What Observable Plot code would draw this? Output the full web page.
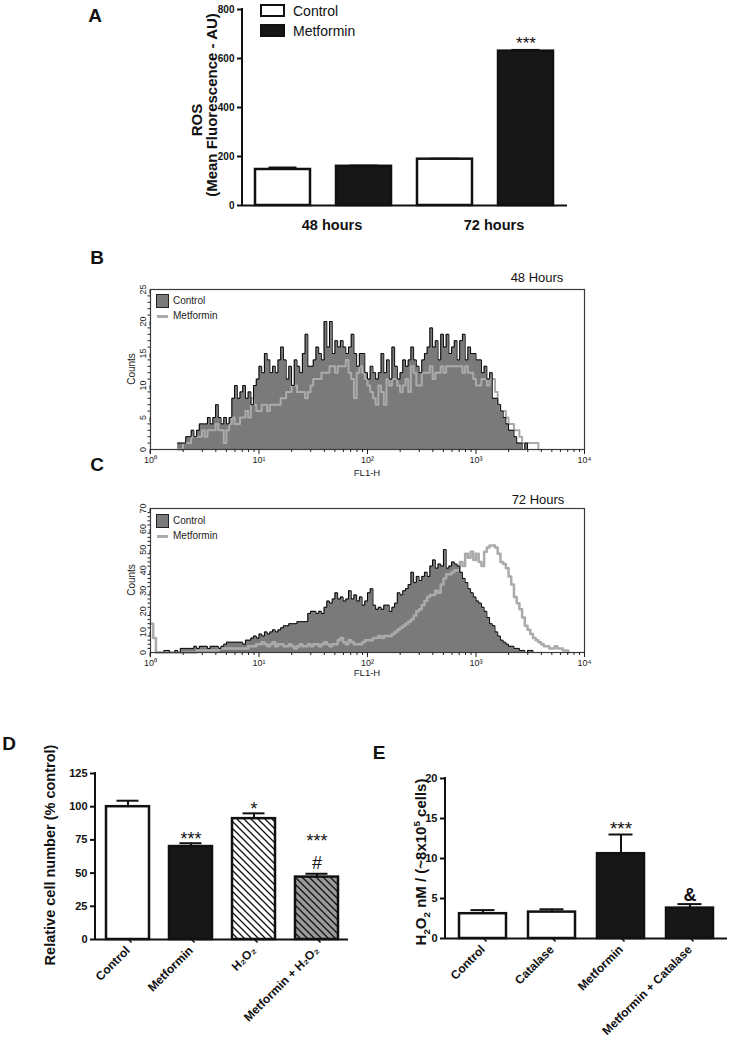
<!DOCTYPE html>
<html><head><meta charset="utf-8">
<script src="https://cdn.jsdelivr.net/npm/d3@7"></script>
<script src="https://cdn.jsdelivr.net/npm/@observablehq/plot@0.6"></script>
<style>
body{margin:0;background:#fff;}
#fig{position:relative;width:730px;height:1044px;font-family:"Liberation Sans",Arial,Helvetica,sans-serif;color:#111;overflow:hidden;background:#fff}
.t{position:absolute;white-space:nowrap;line-height:1}
.c{transform:translate(-50%,-50%)}
.l{transform:translate(0,-50%)}
.r{transform:translate(-50%,-50%) rotate(-90deg)}
.plot{position:absolute}
sub,sup{font-size:0.65em;line-height:0}
</style></head><body><div id="fig"></div>
<script>
// ---------- Panel A: ROS ----------
const rosGroups = ["48 hours", "72 hours"];
const rosTreatments = ["Control", "Metformin"];
const rosMean = [147, 160, 189, 630];
const rosSem = [8, 3, 2, 5];
const rosSig = ["", "", "", "***"];
const rosYTicks = [0, 200, 400, 600, 800];

// ---------- Panels B, C: flow cytometry histograms (counts per channel) ----------
const flowBinDecades = 0.025;            // channel width in log10(FL1-H)
const flowB_firstChannel = 0.25;         // log10 FL1-H of first listed channel
const flowB_control = [1,1,1,2,2,3,2,3,4,4, 4,5,4,5,7,5,4,5,4,5, 8,10,8,9,10,8,9,7,10,11, 13,12,15,14,12,13,12,14,16,14,
  11,13,10,14,13,12,15,18,13,13, 14,16,15,14,20,16,20,15,17,16, 17,16,15,16,18,15,13,15,15,12, 11,13,12,11,12,15,12,14,11,16,
  13,11,12,14,13,14,16,14,13,12, 14,15,16,19,16,17,14,18,16,18, 15,16,17,14,17,18,14,16,15,15, 14,14,12,13,11,12,8,8,7,6,
  5,4,3,3,2,1,1,0,1,0];
const flowB_metformin = [0,0,1,1,1,2,2,2,2,3, 2,3,3,3,4,3,3,1,3,4, 5,4,4,5,5,6,5,8,7,6, 6,7,7,6,7,7,7,7,8,8,
  9,9,10,10,9,9,9,8,9,10, 11,11,11,12,12,12,13,13,12,13, 13,13,14,12,11,8,12,13,12,11, 10,9,8,7,10,9,7,11,10,11,
  11,10,9,10,11,9,13,12,10,10, 12,12,12,13,11,12,12,13,12,13, 13,13,13,13,13,12,13,12,12,11, 10,10,11,11,10,11,11,9,7,6,
  6,5,4,4,3,3,2,1,1,1, 1,1,1,0];
const flowC_firstChannel = 0;
const flowC_control = [0,0,0,0,0,1,1,0,0,1, 0,2,2,2,2,2,3,2,3,3, 3,2,3,3,3,2,3,4,5,5, 5,5,5,5,4,6,6,7,8,7,
  9,8,10,9,10,11,10,11,12,13, 13,14,14,14,15,15,15,15,19,20, 20,19,20,19,22,25,24,26,29,26, 27,25,26,30,26,28,25,27,23,25,
  29,31,23,21,22,21,23,23,20,22, 24,29,28,30,31,33,39,34,37,35, 37,39,37,42,45,41,43,42,50,41, 42,44,43,42,39,36,34,31,29,27,
  25,24,22,20,17,14,13,10,8,6, 5,4,3,3,2,2,1,1,0,1, 1,0];
const flowC_metformin = [14,7,0,0,0,0,0,0,0,0, 0,0,0,0,0,0,0,1,1,1, 1,1,1,1,1,2,2,2,2,2, 2,2,2,2,2,2,3,3,3,4,
  4,5,4,3,4,5,3,4,4,3, 3,4,3,2,3,4,3,3,4,3, 4,4,3,4,5,4,3,4,4,6, 7,5,4,6,5,4,4,4,5,6,
  6,6,7,7,8,7,8,8,8,9, 10,11,12,13,14,15,16,18,20,21, 23,25,27,28,28,30,29,33,36,38, 38,39,40,40,44,42,48,46,49,45,
  48,44,42,49,51,52,52,51,48,44, 43,41,37,33,27,24,21,17,13,11, 9,7,6,5,4,3,3,2,2,3, 2,2,1,1,0];
const flowXTicks = [1, 10, 100, 1000, 10000];
const flowB_yTicks = [0, 5, 10, 15, 20, 25];
const flowC_yTicks = [0, 10, 20, 30, 40, 50, 60, 70];

// ---------- Panel D: relative cell number ----------
const cellCats = ["Control", "Metformin", "H2O2", "Metformin + H2O2"];
const cellTickLabels = ["Control", "Metformin", "H₂O₂", "Metformin + H₂O₂"];
const cellMean = [100, 70, 91, 47];
const cellSem = [4.5, 2.5, 4, 2.5];
const cellSig = ["", "***", "*", "***"];
const cellSig2 = ["", "", "", "#"];
const cellYTicks = [0, 25, 50, 75, 100, 125];

// ---------- Panel E: H2O2 ----------
const h2o2Cats = ["Control", "Catalase", "Metformin", "Metformin + Catalase"];
const h2o2Mean = [3.1, 3.3, 10.6, 3.8];
const h2o2Sem = [0.45, 0.35, 2.4, 0.5];
const h2o2Sig = ["", "", "***", ""];
const h2o2Sig2 = ["", "", "", "&"];
const h2o2YTicks = [0, 5, 10, 15, 20];

const FONT = '"Liberation Sans", Arial, Helvetica, sans-serif';
const fig = document.getElementById("fig");
function addPlot(svg, left, top) { svg.classList.add("plot"); svg.style.left = left + "px"; svg.style.top = top + "px"; fig.appendChild(svg); }
function addText(html, x, y, cls, style) {
  const d = document.createElement("div");
  d.className = "t " + cls; d.innerHTML = html;
  d.style.left = x + "px"; d.style.top = y + "px";
  Object.assign(d.style, style || {});
  fig.appendChild(d);
}
// vertical axis line along the left edge of the y range
const yAxisLine = (w) => (index, scales, values, dims) =>
  d3.create("svg:line").attr("x1", dims.marginLeft).attr("x2", dims.marginLeft)
    .attr("y1", scales.y.range()[0] + w / 2).attr("y2", scales.y.range()[1] - w / 2)
    .attr("stroke", "#111").attr("stroke-width", w).node();

// ================= Panel A =================
const rosRows = rosGroups.flatMap((g, gi) => rosTreatments.map((t, ti) => {
  const k = gi * rosTreatments.length + ti;
  return {key: g + " " + t, group: g, treatment: t, mean: rosMean[k], sem: rosSem[k], sig: rosSig[k]};
}));
const plotA = Plot.plot({
  width: 600, height: 240, marginLeft: 242, marginRight: 33, marginTop: 9, marginBottom: 35,
  style: {fontFamily: FONT, background: "transparent", color: "#111", overflow: "visible"},
  x: {type: "band", domain: rosRows.map(d => d.key), paddingInner: 0.32, paddingOuter: 0.16, axis: null},
  y: {domain: [0, 800]},
  color: {domain: rosTreatments, range: ["#ffffff", "#171717"]},
  marks: [
    Plot.ruleX(rosRows, {x: "key", y1: "mean", y2: d => d.mean + d.sem, stroke: "#111", strokeWidth: 2}),
    Plot.tickY(rosRows, {x: "key", y: d => d.mean + d.sem, insetLeft: 13.5, insetRight: 13.5, stroke: "#111", strokeWidth: 2}),
    Plot.barY(rosRows, {x: "key", y: "mean", fill: "treatment", stroke: "#111", strokeWidth: 2.5}),
    Plot.text(rosRows, {x: "key", y: d => d.mean + d.sem, text: "sig", lineAnchor: "bottom", dy: -1, fontSize: 17}),
    Plot.ruleY([0], {stroke: "#111", strokeWidth: 2}),
    yAxisLine(2),
    Plot.axisY(rosYTicks, {tickSize: 5, tickPadding: 3, fontSize: 10, fontWeight: "bold", strokeWidth: 2, label: null}),
    (index, scales, values, dims) => {
      const g = d3.create("svg:g").attr("font-weight", "bold").attr("font-size", 14.5).attr("text-anchor", "middle").attr("fill", "#111");
      const bw = scales.x.bandwidth ? scales.x.bandwidth() : 0;
      for (const grp of rosGroups) {
        const xs = rosTreatments.map(t => scales.x(grp + " " + t));
        g.append("text").attr("x", (d3.min(xs) + d3.max(xs) + bw) / 2).attr("dx", 9).attr("y", scales.y(0)).attr("dy", "1.72em").text(grp);
      }
      return g.node();
    }
  ]
});
addPlot(plotA, 0, 0);
addText("A", 95, 15, "c", {fontSize: "19px", fontWeight: "bold"});
addText("ROS", 196, 120, "r", {fontSize: "15px", fontWeight: "bold"});
addText("(Mean Fluorescence - AU)", 211, 105, "r", {fontSize: "15px", fontWeight: "bold"});
// legend A
[["Control", "#fff", 4], ["Metformin", "#171717", 24]].forEach(([name, fill, y]) => {
  const b = document.createElement("div");
  Object.assign(b.style, {position: "absolute", left: "260px", top: y + "px", width: "21px", height: "9px", border: "2.5px solid #111", background: fill});
  fig.appendChild(b);
  addText(name, 293, y + 7, "l", {fontSize: "14px"});
});

// ================= Panels B & C =================
const supDigits = ["⁰", "¹", "²", "³", "⁴"];
function bins(counts, first) { return counts.map((c, i) => ({fl: Math.pow(10, first + i * flowBinDecades), count: c})); }
function flowPlot(control, metformin, first, yTicks, minorStep, mTop, frameH, metW) {
  const ctl = bins(control, first), met = bins(metformin, first);
  const yMax = yTicks[yTicks.length - 1];
  const minorX = d3.range(0, 4).flatMap(e => d3.range(2, 10).map(m => m * Math.pow(10, e)));
  const minorY = d3.range(0, yMax + 0.001, minorStep).filter(v => !yTicks.includes(v));
  return Plot.plot({
    width: 730, height: mTop + frameH + 30, marginLeft: 150, marginRight: 146, marginTop: mTop, marginBottom: 30,
    style: {fontFamily: FONT, background: "transparent", color: "#222", overflow: "visible"},
    x: {type: "log", domain: [1, 10000], label: null},
    y: {domain: [0, yMax], label: null},
    marks: [
      Plot.areaY(ctl, {x: "fl", y: "count", curve: "step-after", fill: "#7a7a7a"}),
      Plot.lineY(met, {x: "fl", y: "count", curve: "step-after", stroke: "#ababab", strokeWidth: metW}),
      Plot.lineY(ctl, {x: "fl", y: "count", curve: "step-after", stroke: "#050505", strokeWidth: 1}),
      Plot.frame({stroke: "#3c3c3c", strokeWidth: 1.2}),
      Plot.axisX(flowXTicks, {tickSize: 5, tickPadding: 2, fontSize: 9, tickFormat: d => "10" + supDigits[Math.round(Math.log10(d))], label: null}),
      Plot.axisX(minorX, {tickSize: 3, tickFormat: () => "", label: null}),
      Plot.axisY(yTicks, {tickSize: 4, tickPadding: 3, rotate: -90, textAnchor: "middle", lineAnchor: "middle", fontSize: 9, label: null}),
      Plot.axisY(minorY, {tickSize: 2.5, tickFormat: () => "", label: null})
    ]
  });
}
addPlot(flowPlot(flowB_control, flowB_metformin, flowB_firstChannel, flowB_yTicks, 1, 39, 160, 2), 0, 250);
addPlot(flowPlot(flowC_control, flowC_metformin, flowC_firstChannel, flowC_yTicks, 2, 28, 144, 2.5), 0, 480);
addText("B", 97, 257, "c", {fontSize: "19px", fontWeight: "bold"});
addText("C", 97, 464, "c", {fontSize: "19px", fontWeight: "bold"});
addText("48 Hours", 537, 277, "c", {fontSize: "13px"});
addText("72 Hours", 538, 499, "c", {fontSize: "13px"});
addText("Counts", 132, 369, "r", {fontSize: "10px", color: "#222"});
addText("Counts", 132, 580, "r", {fontSize: "10px", color: "#222"});
addText("FL1-H", 367, 473, "c", {fontSize: "9.5px", color: "#222"});
addText("FL1-H", 367, 673, "c", {fontSize: "9.5px", color: "#222"});
// legends B, C
[[294, 301, 316], [514, 521, 536]].forEach(([boxY, t1, t2]) => {
  const b = document.createElement("div");
  Object.assign(b.style, {position: "absolute", left: "156px", top: boxY + "px", width: "11px", height: "12px", border: "1px solid #222", background: "#7a7a7a"});
  fig.appendChild(b);
  const ln = document.createElement("div");
  Object.assign(ln.style, {position: "absolute", left: "157px", top: (t2 - 1) + "px", width: "11px", height: "2.5px", background: "#ababab"});
  fig.appendChild(ln);
  addText("Control", 173, t1, "l", {fontSize: "10px", color: "#222"});
  addText("Metformin", 173, t2, "l", {fontSize: "10px", color: "#222"});
});

// ================= Panel D =================
const cellRows = cellCats.map((c, i) => ({cat: c, mean: cellMean[i], sem: cellSem[i], sig: cellSig[i], sig2: cellSig2[i]}));
const cellLabel = new Map(cellCats.map((c, i) => [c, cellTickLabels[i]]));
const hatchDefs = () => {
  const defs = d3.create("svg:defs");
  [["hatchWhite", "#ffffff"], ["hatchGray", "#9b9b9b"]].forEach(([id, bg]) => {
    const p = defs.append("pattern").attr("id", id).attr("patternUnits", "userSpaceOnUse").attr("width", 7).attr("height", 7);
    p.append("rect").attr("width", 7).attr("height", 7).attr("fill", bg);
    p.append("path").attr("d", "M-1,-1L8,8M-1,6L1,8M6,-1L8,1").attr("stroke", "#111").attr("stroke-width", 1.3);
  });
  return defs.node();
};
const plotD = Plot.plot({
  width: 360, height: 294, marginLeft: 95, marginRight: 12, marginTop: 23, marginBottom: 105,
  style: {fontFamily: FONT, background: "transparent", color: "#111", overflow: "visible"},
  x: {type: "band", domain: cellCats, paddingInner: 0.32, paddingOuter: 0.16, label: null},
  y: {domain: [0, 125], label: null},
  color: {domain: cellCats, range: ["#ffffff", "#171717", "url(#hatchWhite)", "url(#hatchGray)"]},
  marks: [
    hatchDefs,
    Plot.ruleX(cellRows, {x: "cat", y1: "mean", y2: d => d.mean + d.sem, stroke: "#111", strokeWidth: 2}),
    Plot.tickY(cellRows, {x: "cat", y: d => d.mean + d.sem, insetLeft: 10.5, insetRight: 10.5, stroke: "#111", strokeWidth: 2}),
    Plot.barY(cellRows, {x: "cat", y: "mean", fill: "cat", stroke: "#111", strokeWidth: 2.5}),
    // single significance marks
    Plot.text(cellRows.filter(d => !d.sig2), {x: "cat", y: d => d.mean + d.sem, text: "sig", lineAnchor: "bottom", dy: 2, fontSize: 18}),
    // stacked marks: "***" above "#"
    Plot.text(cellRows.filter(d => d.sig2), {x: "cat", y: d => d.mean + d.sem, text: d => d.sig + "\n" + d.sig2, lineAnchor: "bottom", lineHeight: 1.25, dy: -4.5, fontSize: 18}),
    Plot.ruleY([0], {stroke: "#111", strokeWidth: 2}),
    yAxisLine(2),
    Plot.axisY(cellYTicks, {tickSize: 5, tickPadding: 3, fontSize: 11, fontWeight: "bold", strokeWidth: 2, label: null}),
    Plot.axisX({tickSize: 5, tickPadding: 4, rotate: -45, textAnchor: "end", lineAnchor: "middle", fontSize: 12, fontWeight: "bold", strokeWidth: 1.5, tickFormat: d => cellLabel.get(d), label: null})
  ]
});
addPlot(plotD, 0, 750);
addText("D", 9, 743, "c", {fontSize: "19px", fontWeight: "bold"});
addText("Relative cell number (% control)", 50, 855, "r", {fontSize: "14.5px", fontWeight: "bold"});

// ================= Panel E =================
const h2o2Rows = h2o2Cats.map((c, i) => ({cat: c, mean: h2o2Mean[i], sem: h2o2Sem[i], sig: h2o2Sig[i], sig2: h2o2Sig2[i]}));
const plotE = Plot.plot({
  width: 370, height: 294, marginLeft: 85, marginRight: 3, marginTop: 28, marginBottom: 106,
  style: {fontFamily: FONT, background: "transparent", color: "#111", overflow: "visible"},
  x: {type: "band", domain: h2o2Cats, paddingInner: 0.315, paddingOuter: 0.19, label: null},
  y: {domain: [0, 20], label: null},
  color: {domain: h2o2Cats, range: ["#ffffff", "#ffffff", "#171717", "#171717"]},
  marks: [
    Plot.ruleX(h2o2Rows, {x: "cat", y1: "mean", y2: d => d.mean + d.sem, stroke: "#111", strokeWidth: 2}),
    Plot.tickY(h2o2Rows, {x: "cat", y: d => d.mean + d.sem, insetLeft: 11.5, insetRight: 11.5, stroke: "#111", strokeWidth: 2}),
    Plot.barY(h2o2Rows, {x: "cat", y: "mean", fill: "cat", stroke: "#111", strokeWidth: 2.5}),
    Plot.text(h2o2Rows, {x: "cat", y: d => d.mean + d.sem, text: "sig", lineAnchor: "bottom", dy: 0, fontSize: 19}),
    Plot.text(h2o2Rows, {x: "cat", y: d => d.mean + d.sem, text: "sig2", lineAnchor: "bottom", dy: -3.5, fontSize: 18, fontWeight: "bold"}),
    Plot.ruleY([0], {stroke: "#111", strokeWidth: 2}),
    yAxisLine(2),
    Plot.axisY(h2o2YTicks, {tickSize: 5, tickPadding: 3, fontSize: 11, fontWeight: "bold", strokeWidth: 2, label: null}),
    Plot.axisX({tickSize: 5, tickPadding: 4, rotate: -45, textAnchor: "end", lineAnchor: "middle", fontSize: 12, fontWeight: "bold", strokeWidth: 1.5, label: null})
  ]
});
addPlot(plotE, 360, 750);
addText("E", 379, 752, "c", {fontSize: "19px", fontWeight: "bold"});
addText("H<sub>2</sub>O<sub>2</sub> nM / (~8x10<sup>5</sup> cells)", 420, 862, "r", {fontSize: "15px", fontWeight: "bold"});
</script></body></html>
